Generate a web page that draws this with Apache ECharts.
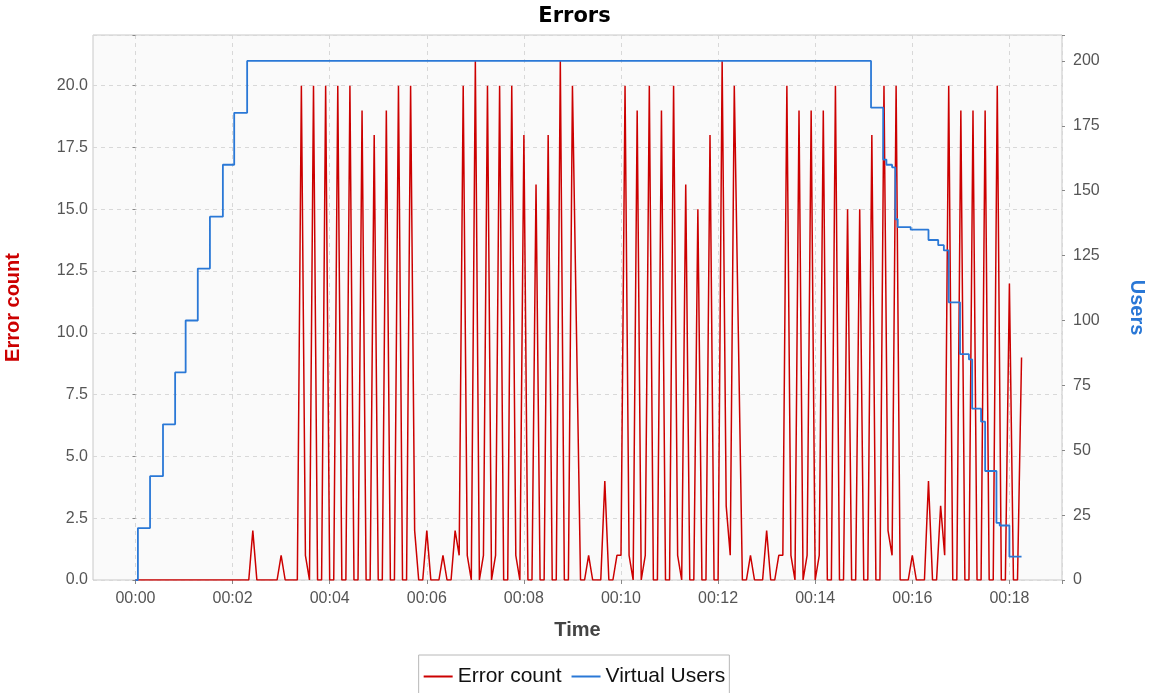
<!DOCTYPE html>
<html><head><meta charset="utf-8">
<script src="https://cdn.jsdelivr.net/npm/echarts/dist/echarts.min.js"></script>
<style>html,body{margin:0;padding:0;background:#fff}#c{width:1149px;height:693px}</style>
</head><body><div id="c"></div>
<script>
// ---- data ----
const chartTitle = 'Errors';
const seriesNames = ['Error count', 'Virtual Users'];
const sampleStepSeconds = 5; // one error sample every 5 s, starting at 00:00
const errorCounts = [
  0,0,0,0,0,0,0,0,0,0, 0,0,0,0,0,0,0,0,0,0, 0,0,0,0,0,0,0,0,        // 0..135
  0,2,0, 0,0,0,0,0, 1, 0,0,0,0,                                      // 140..200
  20,1,0, 20,0,0, 20,0,0, 20,0,0, 20,0,0, 19,0,0, 18,0,0, 19,0,0, 20,0,0, // 205..335
  20,2,0,0, 2,0,0,0, 1,0,0, 2,1,                                     // 340..400
  20,1,0, 21,0,1, 20,0,1, 20,0,0, 20,1,0, 18,0,0, 16,0,0, 18,0,0, 21,0,0, // 405..535
  20,10,0,0, 1,0,0,0, 4,0,0, 1,1,                                    // 540..600
  20,1,0, 19,0,1, 20,0,0, 19,0,0, 20,1,0, 16,0,0, 15,0,0, 18,0,0, 21,3,1, // 605..735
  20,10,0,0, 1,0,0,0, 2,0,0, 1,1,                                    // 740..800
  20,1,0, 19,0,1, 19,0,1, 19,0,0, 20,0,0, 15,0,0, 15,0,0, 18,0,0, 20,2,1, // 805..935
  20,0,0,0, 1,0,0,0, 4,0,0, 3,1,                                     // 940..1000
  20,0,0, 19,0,0, 19,0,0, 19,0,0, 20,0,0, 12,0,0, 9                  // 1005..1095
];
const userTimesSeconds = [0,3,18,34,49,62,77,92,108,122,138,909,924,928,935,939,942,958,980,992,999,1005,1019,1030,1034,1045,1050,1064,1068,1080,1095];
const userCounts       = [0,20,40,60,80,100,120,140,160,180,200,182,162,160,159,139,136,135,131,129,127,107,87,85,66,61,42,22,21,9,9];
const timeTickSeconds = 120;
const errorTickStep = 2.5;
const userTickStep = 25;

// ---- layout ----
const W = 1149, H = 693;
const plotLeft = 93, plotRight = 1062, plotTop = 35, plotBottom = 580;
const xMin = -52.5, xMax = 1145;
const zeroPx = plotLeft + (0 - xMin) / (xMax - xMin) * (plotRight - plotLeft);
const RED = '#cc0000', BLUE = '#2a78d6';

const errorData = errorCounts.map((v, i) => [i * sampleStepSeconds, v]);
const userData = userTimesSeconds.map((t, i) => [t, userCounts[i]]);

function fmtTime(v) {
  if (v % timeTickSeconds !== 0) return '';
  const m = Math.round(v / 60);
  return '00:' + (m < 10 ? '0' + m : m);
}

const chart = echarts.init(document.getElementById('c'), null, {renderer: 'canvas'});
chart.setOption({
  animation: false,
  backgroundColor: '#ffffff',
  title: {
    text: chartTitle, left: 'center', top: 1,
    textStyle: {fontFamily: 'DejaVu Sans', fontWeight: 'bold', fontSize: 21, color: '#000'}
  },
  legend: {
    data: seriesNames, top: 655, left: 'center',
    icon: 'rect', itemWidth: 29, itemHeight: 2, itemGap: 10,
    textStyle: {fontFamily: 'Liberation Sans', fontSize: 21, color: '#111'},
    borderColor: '#b8b8b8', borderWidth: 1, borderRadius: 0,
    padding: [11, 4, 24, 5], backgroundColor: '#ffffff'
  },
  grid: [
    {left: plotLeft, right: W - plotRight, top: plotTop, bottom: H - plotBottom,
     outerBoundsMode: 'none', containLabel: false,
     show: true, backgroundColor: '#fafafa', borderColor: '#c8c8c8', borderWidth: 1},
    {left: zeroPx, right: W - plotRight, top: plotTop, bottom: H - plotBottom,
     outerBoundsMode: 'none', containLabel: false, show: false}
  ],
  xAxis: [
    {gridIndex: 0, type: 'value', min: xMin, max: xMax,
     name: 'Time', nameLocation: 'middle', nameGap: 40,
     nameTextStyle: {fontFamily: 'Liberation Sans', fontWeight: 'bold', fontSize: 20, color: '#444'},
     axisLine: {show: false}, axisTick: {show: false}, axisLabel: {show: false}, splitLine: {show: false}},
    {gridIndex: 1, type: 'value', min: 0, max: xMax, interval: timeTickSeconds,
     axisLine: {show: false},
     axisTick: {show: true, length: 4, lineStyle: {color: '#888'}},
     axisLabel: {formatter: fmtTime, color: '#555', fontFamily: 'Liberation Sans', fontSize: 16, margin: 11},
     splitLine: {show: true, lineStyle: {type: [4, 4], color: '#d8d8d8', width: 1}}}
  ],
  yAxis: [
    {gridIndex: 0, type: 'value', position: 'left', min: 0, max: 22.05, interval: errorTickStep,
     name: 'Error count', nameLocation: 'middle', nameGap: 70,
     nameTextStyle: {fontFamily: 'Liberation Sans', fontWeight: 'bold', fontSize: 20, color: RED},
     axisLine: {show: false},
     axisTick: {show: true, length: 3, lineStyle: {color: '#888'}},
     axisLabel: {formatter: v => v > 21 ? '' : v.toFixed(1), color: '#555', fontFamily: 'Liberation Sans', fontSize: 16, margin: 5},
     splitLine: {show: true, lineStyle: {type: [4, 4], color: '#d8d8d8', width: 1}}},
    {gridIndex: 0, type: 'value', position: 'right', min: 0, max: 210, interval: userTickStep,
     name: 'Users', nameLocation: 'middle', nameGap: 65, nameRotate: -90,
     nameTextStyle: {fontFamily: 'Liberation Sans', fontWeight: 'bold', fontSize: 20, color: BLUE},
     axisLine: {show: false},
     axisTick: {show: true, length: 3, lineStyle: {color: '#888'}},
     axisLabel: {formatter: v => v > 205 ? '' : String(v), color: '#555', fontFamily: 'Liberation Sans', fontSize: 16, margin: 11},
     splitLine: {show: false}},
    {gridIndex: 1, type: 'value', show: false, min: 0, max: 1}
  ],
  series: [
    {name: seriesNames[0], type: 'line', xAxisIndex: 0, yAxisIndex: 0, data: errorData,
     showSymbol: false, symbol: 'none', color: RED, lineStyle: {color: RED, width: 1.5}, z: 2},
    {name: seriesNames[1], type: 'line', xAxisIndex: 0, yAxisIndex: 1, data: userData, step: 'end',
     showSymbol: false, symbol: 'none', color: BLUE, lineStyle: {color: BLUE, width: 1.8}, z: 3}
  ]
});
</script></body></html>
